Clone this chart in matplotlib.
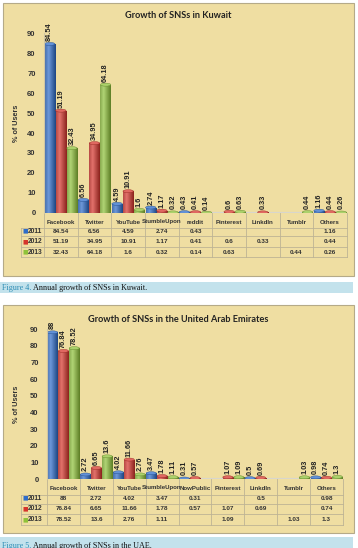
import numpy as np
import matplotlib
matplotlib.use("Agg")
import matplotlib.pyplot as plt
from matplotlib.patches import Rectangle, Ellipse
from matplotlib.transforms import blended_transform_factory
from matplotlib.colors import to_rgb

W, H = 358, 548

YEARS = ["2011", "2012", "2013"]
COLORS = ["#2e6cc9", "#d6352c", "#8fc23a"]

KUWAIT_CATS = ["Facebook", "Twitter", "YouTube", "StumbleUpon", "reddit",
               "Pinterest", "LinkdIn", "Tumblr", "Others"]
KUWAIT_2011 = [84.54, 6.56, 4.59, 2.74, 0.43, None, None, None, 1.16]
KUWAIT_2012 = [51.19, 34.95, 10.91, 1.17, 0.41, 0.6, 0.33, None, 0.44]
KUWAIT_2013 = [32.43, 64.18, 1.6, 0.32, 0.14, 0.63, None, 0.44, 0.26]

UAE_CATS = ["Facebook", "Twitter", "YouTube", "StumbleUpon", "NowPublic",
            "Pinterest", "LinkdIn", "Tumblr", "Others"]
UAE_2011 = [88, 2.72, 4.02, 3.47, 0.31, None, 0.5, None, 0.98]
UAE_2012 = [76.84, 6.65, 11.66, 1.78, 0.57, 1.07, 0.69, None, 0.74]
UAE_2013 = [78.52, 13.6, 2.76, 1.11, None, 1.09, None, 1.03, 1.3]

PAPER = "#efdea2"
BORDER = "#b5aa88"
LINE = "#bdb394"
TEXT = "#333333"
FONT = "Liberation Sans"


def fx(x):
    return x / W


def fy(y):
    return 1 - y / H


def mix(c1, c2, t):
    a, b = np.array(to_rgb(c1)), np.array(to_rgb(c2))
    return a * (1 - t) + b * t


def cylinder(color, n=40):
    t = np.linspace(0, 1, n)
    k = np.clip(1 - np.abs(t - 0.33) / 0.67, 0, 1)
    dark = mix(color, "black", 0.35)
    light = mix(color, "white", 0.3)
    return np.array([dark * (1 - v) + light * v for v in k])[np.newaxis, :, :]


def draw_panel(fig, box, axbox, title, title_y, cats, series, header_y, rows_y, bottom_y):
    left, top, right, bottom = box
    fig.add_artist(Rectangle((fx(left), fy(bottom)), (right - left) / W, (bottom - top) / H,
                             transform=fig.transFigure, fc=PAPER, ec=BORDER, lw=0.8, zorder=-5))
    ax_l, ax_t, ax_r, ax_b = axbox
    ax = fig.add_axes([fx(ax_l), fy(ax_b), (ax_r - ax_l) / W, (ax_b - ax_t) / H])
    ax.set_facecolor("none")
    n = len(cats)
    unit_x = (ax_r - ax_l) / n
    unit_y = (ax_b - ax_t) / 90.0

    width = 0.31
    offsets = [-0.33, 0.0, 0.33]
    for vals, col, off in zip(series, COLORS, offsets):
        xs = [i + off for i, v in enumerate(vals) if v is not None]
        hs = [v for v in vals if v is not None]
        bars = ax.bar(xs, hs, width=width, color=col, lw=0, zorder=2)
        grad = cylinder(col)
        for p, h in zip(bars.patches, hs):
            x0 = p.get_x()
            im = ax.imshow(grad, extent=(x0, x0 + width, 0, h), aspect="auto", zorder=2.1)
            im.set_clip_path(p)
            ax.add_patch(Ellipse((x0 + width / 2, h), width, 3 / unit_y,
                                 fc=mix(col, "white", 0.25), ec=mix(col, "black", 0.3),
                                 lw=0.3, zorder=2.2))
            ax.text(x0 + width / 2, h + 3 / unit_y, f"{h:g}", rotation=90, ha="center",
                    va="bottom", fontsize=5.3, fontweight="bold", color="#222222",
                    family=FONT, clip_on=False, zorder=3)

    ax.axhline(0, color="#d8d6cc", lw=1.6, zorder=1.5)
    ax.set_xlim(-0.5, n - 0.5)
    ax.set_ylim(0, 90)
    ax.set_xticks([])
    ax.set_yticks(range(0, 100, 10))
    ax.tick_params(axis="y", length=0, labelsize=5.5, pad=6, labelcolor=TEXT)
    for lbl in ax.get_yticklabels():
        lbl.set_fontweight("bold")
        lbl.set_family(FONT)
    for s in ["top", "right", "bottom"]:
        ax.spines[s].set_visible(False)
    ax.spines["left"].set_color("#cfc6a4")
    ax.spines["left"].set_linewidth(0.8)
    ax.set_ylabel("% of Users", fontsize=5.2, fontweight="bold", color=TEXT, family=FONT)
    ax.yaxis.set_label_coords((20 - ax_l) / (ax_r - ax_l), 0.5)

    fig.text(fx(178), fy(title_y), title, ha="center", va="center", fontsize=6.6,
             fontweight="bold", family="Lato", color="#222222")

    # data table under the floor
    trans = blended_transform_factory(ax.transData, fig.transFigure)
    key_left = -0.5 - (ax_l - 21) / unit_x
    floor_y = ax_b
    for i, c in enumerate(cats):
        ax.text(i, fy(header_y), c, transform=trans, ha="center", va="center", fontsize=4.4,
                fontweight="bold", color=TEXT, family=FONT, clip_on=False)
    for vals, col, year, ry in zip(series, COLORS, YEARS, rows_y):
        fig.text(fx(22.5), fy(ry), "\u25a0", color=col, fontsize=4.2, ha="left",
                 va="center", family="DejaVu Sans")
        fig.text(fx(27.5), fy(ry), year, color=TEXT, fontsize=4.8, ha="left",
                 va="center", fontweight="bold", family=FONT)
        for i, v in enumerate(vals):
            if v is not None:
                ax.text(i, fy(ry), f"{v:g}", transform=trans, ha="center", va="center",
                        fontsize=4.6, fontweight="bold", color=TEXT, family=FONT,
                        clip_on=False)
    lines_y = [(rows_y[0] + header_y) / 2 + 1.5]
    lines_y += [(a + b) / 2 for a, b in zip(rows_y[:-1], rows_y[1:])]
    lines_y += [bottom_y]
    for ly in lines_y:
        ax.plot([key_left, n - 0.5], [fy(ly)] * 2, transform=trans, color=LINE, lw=0.6,
                clip_on=False)
    for i in range(n + 1):
        ax.plot([i - 0.5] * 2, [fy(floor_y), fy(bottom_y)], transform=trans, color=LINE,
                lw=0.6, clip_on=False)
    ax.plot([key_left] * 2, [fy(lines_y[0]), fy(bottom_y)], transform=trans, color=LINE,
            lw=0.6, clip_on=False)
    return ax


def draw_caption(fig, y0, y1, label, rest):
    fig.add_artist(Rectangle((0, fy(y1)), fx(353), (y1 - y0) / H, transform=fig.transFigure,
                             fc="#c3e2ec", ec="none", zorder=-5))
    ty = (y0 + y1) / 2 + 0.5
    t = fig.text(fx(2), fy(ty), label, color="#2d8cb4", family="Liberation Serif",
                 fontsize=5.9, va="center", ha="left")
    r = fig.canvas.get_renderer()
    bb = t.get_window_extent(renderer=r)
    fig.text(bb.x1 / fig.dpi / fig.get_figwidth() + fx(1.5), fy(ty), rest, color="#111111",
             family="Liberation Serif", fontsize=5.9, va="center", ha="left")


fig = plt.figure(figsize=(W / 100, H / 100), dpi=100)
fig.patch.set_facecolor("white")

draw_panel(fig, (3, 3, 354, 276), (44, 33, 347, 213), "Growth of SNSs in Kuwait", 15,
           KUWAIT_CATS, [KUWAIT_2011, KUWAIT_2012, KUWAIT_2013], 222, [231, 241.5, 252], 257)
draw_caption(fig, 282, 293, "Figure 4.", "Annual growth of SNSs in Kuwait.")

draw_panel(fig, (3, 305, 354, 533), (47, 329, 343, 479),
           "Growth of SNSs in the United Arab Emirates", 319,
           UAE_CATS, [UAE_2011, UAE_2012, UAE_2013], 488, [498, 509, 519.5], 524.5)
draw_caption(fig, 537, 553, "Figure 5.", "Annual growth of SNSs in the UAE.")

fig.savefig("out.png", dpi=100)
